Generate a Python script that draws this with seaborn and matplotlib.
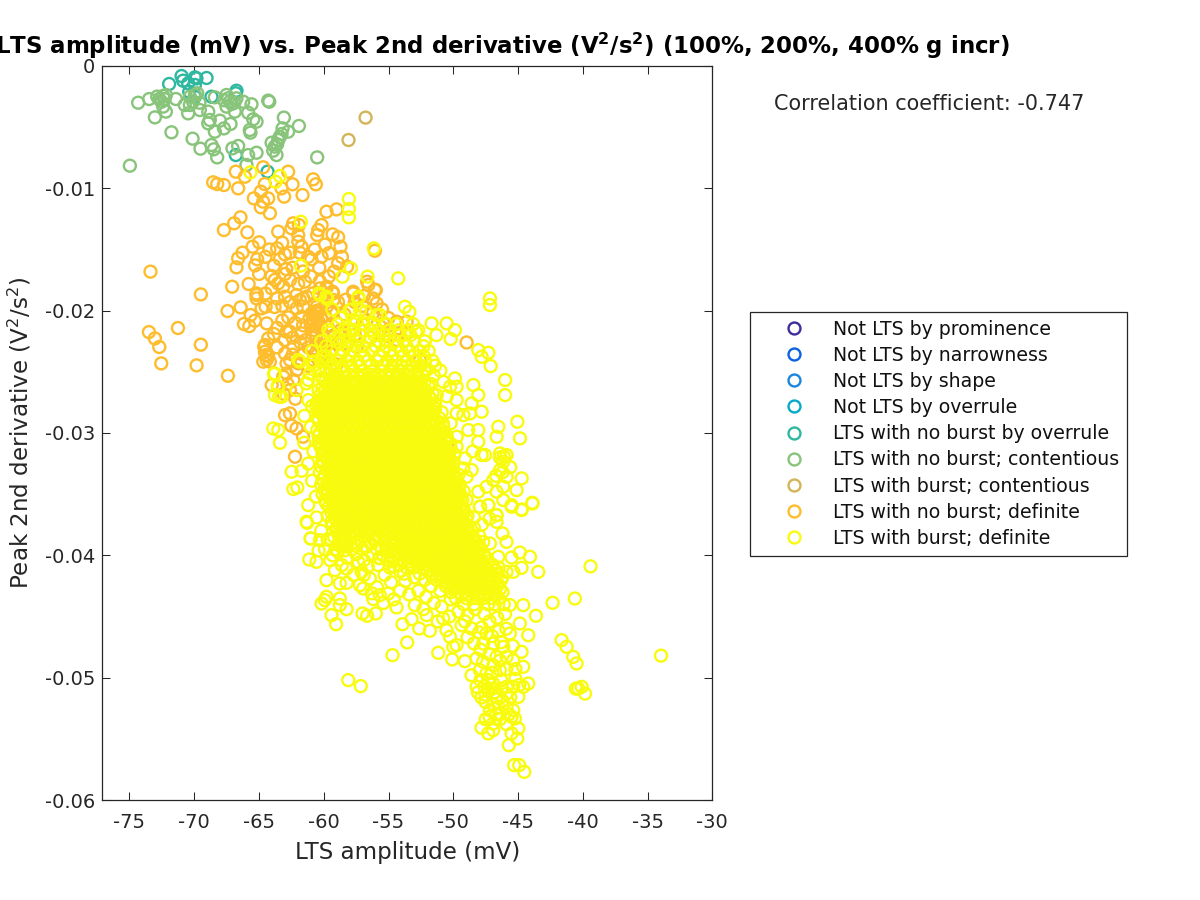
import numpy as np
import pandas as pd
import seaborn as sns
import matplotlib
matplotlib.use("Agg")
import matplotlib.pyplot as plt
from matplotlib.lines import Line2D

# amplitude in mV, second derivative in units of 1e-3 V^2/s^2
categories = ["Not LTS by prominence", "Not LTS by narrowness", "Not LTS by shape", "Not LTS by overrule",
              "LTS with no burst by overrule", "LTS with no burst; contentious", "LTS with burst; contentious",
              "LTS with no burst; definite", "LTS with burst; definite"]
colours = ["#3f2d9c", "#0b62e0", "#1a86de", "#07a9c8", "#2fb8a0", "#88c47a", "#d3b558", "#fdbd2c", "#f9fb0e"]

teal = [(-71.94,-1.47),(-70.98,-.82),(-70.86,-1.2),(-69.95,-.93),(-69.83,-1.01),(-69.05,-.98),(-70.47,-1.42),(-69.95,-1.55),
        (-70.39,-2.1),(-68.67,-2.51),(-66.74,-2.02),(-66.79,-2.23),(-66.79,-7.28),(-64.34,-8.64),(-69.95,-2.51)]
green = [(-74.33,-3.0),(-73.48,-2.7),(-72.86,-2.5),(-72.4,-2.45),(-72.19,-2.37),(-72.53,-2.92),(-72.4,-3.32),(-72.19,-3.73),
         (-73.04,-4.2),(-71.76,-5.42),(-71.42,-2.7),(-70.73,-3.19),(-70.47,-3.87),(-70.34,-2.51),(-69.95,-2.37),(-69.77,-2.23),
         (-70.34,-3.19),(-69.57,-3.6),(-68.92,-3.73),(-68.8,-4.41),(-68.92,-4.69),(-68.41,-5.37),(-68.02,-4.47),(-67.71,-5.1),
         (-67.2,-4.74),(-70.13,-5.94),(-69.52,-6.76),(-68.67,-6.46),(-68.49,-6.81),(-68.23,-7.47),(-68.41,-2.56),(-67.51,-2.37),
         (-67.38,-2.64),(-67.25,-2.92),(-67.51,-3.32),(-66.87,-3.73),(-66.74,-2.64),(-66.22,-2.92),(-65.58,-3.13),(-65.84,-3.82),
         (-65.45,-4.36),(-65.19,-4.55),(-65.71,-5.23),(-65.66,-5.45),(-64.29,-2.83),(-64.21,-2.92),(-63.08,-4.22),(-61.92,-4.9),
         (-62.75,-5.37),(-63.18,-5.1),(-63.26,-5.56),(-63.52,-6.05),(-64.03,-6.27),(-63.78,-6.59),(-63.9,-6.92),(-63.65,-7.28),
         (-60.51,-7.47),(-67.05,-6.73),(-66.61,-6.54),(-65.84,-7.28),(-65.19,-7.09),(-74.97,-8.15),(-65.97,-8.09),
         (-72.7,-2.7),(-72.3,-2.7),(-70.1,-2.9),(-69.6,-3.0),(-67.7,-2.8),(-67.1,-3.1),(-66.9,-3.0),(-63.4,-5.8),(-63.6,-6.4)]
tan = [(-56.77,-4.22),(-58.09,-6.05)]
orange = [(-66.79,-8.64),(-66.09,-9.05),(-64.68,-8.28),(-62.75,-8.64),(-68.54,-9.51),(-68.23,-9.65),(-67.71,-9.73),(-66.61,-10.0),
          (-64.55,-9.65),(-63.26,-10.0),(-62.41,-9.67),(-60.82,-9.26),(-60.61,-9.67),(-61.64,-10.55),(-64.86,-10.27),(-65.4,-10.82),
          (-63.06,-10.68),(-64.29,-10.82),(-64.68,-11.09),(-64.86,-11.55),(-64.16,-12.04),(-66.43,-12.37),(-66.92,-12.86),(-67.71,-13.41),
          (-62.36,-12.86),(-62.49,-13.27),(-61.92,-13.0),(-63.52,-13.54),(-61.97,-13.82),(-60.17,-13.0),(-60.43,-13.41),(-60.51,-13.82),
          (-59.79,-11.91),(-59.01,-11.72),(-59.32,-13.76),(-58.89,-14.0),(-58.71,-14.77),(-63.21,-14.44),(-61.97,-14.36),(-61.72,-14.77),
          (-61.85,-15.26),(-64.99,-14.41),(-65.5,-14.77),(-66.27,-15.26),(-66.61,-15.72),(-66.74,-16.46),(-65.14,-15.8),(-63.39,-15.78),
          (-62.62,-15.26),(-60.95,-15.8),(-60.17,-15.59),(-58.89,-16.13),(-59.2,-16.81),(-63.85,-16.32),(-62.41,-16.49),(-60.35,-16.49),
          (-73.38,-16.81),(-64.99,-17.0),(-64.03,-17.17),(-63.78,-17.49),(-63.52,-17.77),(-65.8,-17.82),(-67.07,-18.04),(-64.03,-18.17),
          (-61.97,-17.82),(-61.46,-17.63),(-63.13,-18.04),(-59.79,-18.17),(-57.73,-18.45),(-56.65,-17.63),(-55.98,-18.31),(-60.82,-18.58),
          (-59.32,-18.45),(-69.49,-18.67),(-65.19,-18.72),(-62.1,-18.72),(-56.05,-15.1),(-67.43,-20.03),(-71.26,-21.42),(-73.5,-21.75),
          (-73.04,-22.27),(-72.7,-22.97),(-69.49,-22.78),(-72.55,-24.31),(-69.82,-24.47),(-67.4,-25.32),(-66.42,-19.73),(-62.99,-18.86),
          (-65.19,-18.59),(-65.19,-19.0),(-64.8,-19.81),(-64.49,-19.68),(-65.65,-20.36),(-66.16,-21.09),(-65.75,-21.26),(-65.32,-20.82),
          (-64.41,-21.04),(-62.74,-20.55),(-62.87,-21.72),(-62.61,-21.72),(-61.71,-21.86),(-62.35,-22.95),(-63.85,-21.91),(-64.29,-22.27),
          (-64.54,-22.81),(-64.54,-23.36),(-64.41,-24.04),(-64.16,-24.17),(-64.67,-24.17),(-64.6,-22.95),(-64.47,-23.63),(-64.3,-23.7),
          (-60.94,-20.22),(-60.55,-20.22),(-60.3,-19.95),(-60.81,-20.77),(-60.55,-21.31),(-60.94,-21.86),(-60.3,-22.4),(-60.04,-23.36),
          (-62.61,-24.04),(-62.87,-25.13),(-62.1,-24.85),(-62.35,-25.67),(-59.27,-18.59),(-61.84,-19.13),(-61.58,-19.68),(-59.78,-18.04),
          (-61.32,-18.86),(-60.3,-18.18),(-59.78,-19.68),(-59.27,-19.13),(-60.55,-19.7),(-60.6,-20.5),(-60.2,-20.7),(-60.7,-21.6),
          (-60.1,-21.9),(-60.5,-22.7),(-60.0,-22.95),(-60.7,-20.1),(-61.1,-20.6),(-59.9,-20.4),(-61.58,-19.0),(-57.72,-18.59),
          (-56.05,-18.3),(-56.56,-17.9),(-55.92,-19.4),(-54.37,-20.9),(-53.6,-20.9),(-48.97,-22.6),(-62.61,-28.4),(-62.99,-28.54),
          (-64.02,-26.08),(-62.1,-29.63),(-62.22,-31.94),(-59.52,-24.72),(-60.81,-24.04),(-62.87,-24.31),(-63.13,-25.4),(-62.61,-26.5),
          (-61.97,-24.31),(-58.75,-22.4),(-58.23,-22.68),(-59.52,-23.5),(-57.46,-22.95),(-56.69,-20.77),(-55.4,-21.04),(-54.89,-22.13),
          (-53.6,-21.86),(-54.37,-22.4),(-52.57,-24.04),(-53.09,-26.22),(-51.4,-30.6),(-50.4,-30.7),(-51.8,-29.2),(-61.6,-30.3),
          (-59.0,-21.0),(-58.4,-20.3),(-58.0,-21.6),(-57.0,-19.6),(-56.4,-22.2),(-55.5,-19.9),(-55.0,-20.6),(-61.2,-23.0),(-59.0,-24.4)]
orange_extra = [(-65.9,-13.6),(-65.3,-16.3),(-64.5,-15.6),(-64.2,-15.0),(-63.6,-14.9),(-63.0,-15.4),(-62.9,-16.6),(-61.6,-16.8),(-61.2,-15.6),
          (-60.7,-15.0),(-59.9,-14.6),(-59.6,-15.3),(-58.6,-15.6),(-58.2,-16.4),(-59.6,-17.2),(-60.3,-17.6),(-61.0,-17.2),(-62.6,-17.5),(-63.0,-17.0),
          (-64.5,-18.6),(-63.6,-19.0),(-63.8,-19.7),(-63.2,-19.6),(-62.6,-19.3),(-62.1,-19.8),(-61.7,-20.5),(-62.2,-21.0),(-61.6,-21.2),(-61.0,-21.2),
          (-63.2,-20.8),(-63.6,-21.4),(-63.0,-22.4),(-62.4,-22.2),(-61.8,-22.6),(-61.4,-22.4),(-63.6,-23.0),(-63.0,-23.5),(-62.4,-23.6),(-61.6,-23.6),
          (-61.2,-24.5),(-60.3,-24.8),(-60.0,-24.0),(-59.4,-22.6),(-59.2,-22.0),(-58.7,-21.6),(-57.6,-22.0),(-57.0,-21.1),(-56.2,-20.2),(-55.0,-21.6),
          (-60.5,-20.0),(-60.8,-20.4),(-60.4,-20.9),(-60.9,-21.1),(-60.2,-21.3),(-60.6,-22.1),(-60.3,-22.9),(-60.1,-23.6),(-60.6,-23.4),(-59.7,-21.3),
          (-59.4,-20.2),(-58.9,-19.3),(-58.3,-19.1),(-57.6,-19.3),(-56.9,-18.8),(-56.2,-19.0),(-62.8,-26.0),(-62.2,-27.2),(-63.1,-26.8),(-62.5,-29.4)]
yellow_outer = [(-65.66,-8.69),(-63.39,-8.99),(-63.72,-9.46),(-61.77,-12.73),(-58.06,-10.87),(-58.06,-11.69),(-58.06,-12.37),(-56.13,-14.91),
          (-61.77,-16.32),(-58.55,-17.22),(-57.91,-16.54),(-56.62,-17.22),(-54.25,-17.36),(-60.3,-18.72),(-59.79,-18.86),(-57.34,-19.0),
          (-60.37,-18.59),(-59.73,-19.05),(-59.34,-19.9),(-58.7,-20.58),(-57.85,-19.9),(-59.65,-21.58),(-59.52,-21.8),(-60.81,-24.17),
          (-61.84,-24.17),(-63.85,-25.18),(-63.56,-26.16),(-63.44,-27.03),(-62.1,-26.49),(-61.07,-25.13),(-61.33,-25.94),(-59.78,-23.76),
          (-58.75,-22.67),(-57.72,-21.58),(-57.47,-22.4),(-59.0,-24.04),(-60.3,-24.85),(-53.73,-19.68),(-53.39,-20.09),(-51.67,-21.04),
          (-50.51,-21.04),(-49.87,-21.59),(-50.2,-22.32),(-52.88,-21.72),(-48.07,-23.22),(-47.81,-23.77),(-47.29,-23.44),(-47.11,-24.53),
          (-46.0,-25.67),(-46.0,-26.9),(-47.17,-19.0),(-47.17,-19.54),(-57.33,-18.86),(-57.98,-19.95),(-57.2,-19.95),(-55.92,-20.36),
          (-55.66,-20.36),(-57.46,-20.9),(-56.74,-20.09),(-55.4,-22.0),(-56.17,-21.04),(-59.0,-22.27),(-58.49,-22.4),(-57.72,-20.77),
          (-63.9,-29.63),(-63.51,-29.76),(-63.38,-30.8),(-62.48,-33.17),(-61.71,-33.09),(-62.35,-34.58),(-62.04,-34.45),(-63.77,-25.13),
          (-63.51,-26.22),(-63.77,-26.9),(-63.25,-27.04),(-61.19,-27.31),(-61.19,-25.67),(-61.97,-24.04),(-60.81,-24.18)]
yellow_right = [(-50.77,-25.81),(-51.28,-26.9),(-51.41,-27.58),(-49.87,-25.54),(-50.25,-26.22),(-49.74,-26.22),(-49.74,-27.31),(-48.45,-26.08),
          (-48.07,-26.9),(-48.58,-27.58),(-47.81,-28.26),(-48.71,-28.4),(-49.74,-28.4),(-49.22,-28.54),(-50.77,-29.49),(-49.74,-30.31),
          (-48.84,-29.76),(-48.07,-29.76),(-48.07,-30.72),(-46.52,-29.49),(-46.65,-30.31),(-45.05,-29.08),(-44.85,-30.44),(-47.81,-31.8),
          (-47.55,-31.8),(-49.1,-32.08),(-49.22,-32.9),(-48.58,-33.03),(-48.97,-33.58),(-46.39,-31.67),(-45.88,-31.8),(-46.14,-32.35),
          (-46.39,-33.03),(-45.88,-33.58),(-44.72,-33.71),(-46.91,-33.85),(-45.11,-34.67),(-46.14,-34.39),(-46.65,-34.8),(-47.42,-34.39),
          (-48.07,-34.8),(-47.29,-35.89),(-47.94,-36.03),(-46.14,-35.48),(-45.49,-36.03),(-44.72,-36.3),(-43.9,-35.7),(-46.65,-36.71),
          (-50.25,-30.85),(-50.38,-31.53),(-51.28,-32.21),(-49.74,-31.12),(-51.03,-33.03),(-50.51,-33.85),(-50.0,-34.67),(-48.97,-35.48),
          (-49.48,-34.94),(-46.4,-32.0),(-46.2,-33.2),(-46.7,-33.5),(-45.6,-32.8),(-46.1,-31.9),
          (-52.0,-24.8),(-51.5,-25.3),(-51.9,-26.1),(-51.0,-24.9),(-50.5,-27.0),(-50.9,-28.3),(-51.3,-29.0),(-50.2,-29.2),(-50.0,-32.4),
          (-49.6,-33.4),(-48.5,-31.5),(-49.2,-36.2),(-48.4,-36.9),(-47.8,-37.5),(-48.9,-37.6),(-48.0,-38.4),(-47.2,-37.0)]
yellow_lower = [(-61.12,-40.34),(-60.56,-40.53),(-59.79,-42.03),(-58.76,-42.3),(-58.24,-42.25),(-57.21,-42.44),(-56.96,-42.71),(-56.44,-41.89),
          (-57.08,-41.35),(-58.24,-41.08),(-59.14,-41.21),(-60.17,-43.94),(-59.79,-43.39),(-59.92,-43.66),(-58.76,-43.53),(-58.24,-44.4),
          (-58.76,-44.07),(-59.4,-44.89),(-59.05,-45.63),(-57.01,-44.75),(-56.65,-44.94),(-55.98,-44.75),(-56.18,-43.58),(-55.67,-43.26),
          (-55.02,-43.12),(-54.38,-44.26),(-53.92,-45.63),(-53.22,-45.22),(-53.56,-47.12),(-54.69,-48.16),(-52.63,-45.98),(-51.81,-46.17),
          (-51.16,-47.97),(-50.08,-48.51),(-49.1,-48.65),(-58.11,-50.2),(-57.14,-50.69),(-61.0,-38.62),(-61.28,-37.34),(-60.3,-38.76),
          (-52.97,-44.07),(-52.06,-44.89),(-50.78,-45.16),(-50.52,-46.12),(-49.75,-47.34),(-50.0,-47.48),(-50.26,-46.66),(-48.59,-45.98),
          (-49.36,-45.71),(-45.63,-44.07),(-44.6,-44.07),(-43.62,-44.94),(-44.21,-46.53),(-42.33,-43.88),(-40.61,-43.53),(-43.44,-41.35),
          (-44.08,-40.12),(-44.73,-41.02),(-45.5,-40.18),(-44.86,-39.77),(-45.89,-41.35),(-45.37,-41.35),(-46.66,-36.72),(-46.66,-37.26),
          (-46.2,-38.21),(-45.89,-38.9),(-47.69,-38.9),(-47.17,-39.03),(-46.53,-40.12),(-47.95,-36.03),(-47.3,-35.9),(-45.5,-35.9),
          (-44.73,-36.25),(-43.88,-35.76),(-48.2,-48.43),(-48.59,-49.8),(-48.2,-50.75),(-47.82,-51.62),(-46.92,-50.48),(-46.66,-51.57),
          (-47.17,-52.66),(-45.89,-52.38),(-46.92,-53.75),(-47.82,-54.1),(-47.3,-54.56),(-46.92,-54.29),(-45.24,-53.34),(-44.98,-54.15),
          (-45.5,-54.56),(-45.06,-54.97),(-45.71,-55.52),(-45.3,-57.15),(-44.91,-57.15),(-44.52,-57.7),(-45.37,-50.75),(-44.21,-50.48),
          (-44.6,-50.75),(-44.98,-51.57),(-45.37,-52.66),(-46.4,-52.93),(-47.69,-47.21),(-46.92,-47.21),(-47.43,-46.39),(-45.89,-48.3),
          (-44.73,-47.89),(-44.6,-49.11),(-45.37,-48.57),(-44.86,-45.57),(-45.63,-46.39),(-46.14,-47.48),(-46.66,-48.3),(-47.95,-49.39),
          (-47.43,-49.66),(-46.4,-49.39),(-45.89,-50.75),(-41.64,-46.93),(-41.25,-47.48),(-40.74,-48.3),(-40.48,-48.84),(-40.35,-50.88),
          (-40.09,-50.75),(-39.4,-40.9),(-33.96,-48.2),(-39.83,-51.3),(-40.53,-50.9),(-61.2,-35.89),(-61.33,-37.26),(-61.02,-38.62),
          (-60.55,-36.9),(-60.6,-35.2),(-60.9,-33.9),(-61.2,-32.5),(-60.8,-31.5),(-61.5,-30.8),(-61.0,-29.5),(-61.5,-28.6),(-60.9,-27.8),
          (-59.9,-39.5),(-60.2,-38.0),(-59.5,-40.4),(-58.9,-39.7),(-58.2,-40.2),(-57.5,-39.9),(-56.9,-40.4),(-56.3,-39.9),(-55.8,-40.8),
          (-55.3,-41.6),(-54.8,-42.2),(-54.1,-42.9),(-53.4,-43.2),(-52.7,-42.9),(-52.1,-43.4),(-51.5,-43.9),(-50.9,-44.2),(-51.0,-42.9),
          (-50.2,-43.6),(-49.6,-44.6),(-48.9,-44.9),(-48.3,-44.4),(-47.6,-44.8),(-47.2,-45.4),(-46.6,-45.1),(-46.0,-44.8),(-48.9,-46.7),
          (-48.4,-47.2),(-47.8,-45.9),(-46.5,-46.2),(-45.9,-46.0),(-47.2,-48.1),(-47.7,-48.7),(-46.9,-49.0),(-45.9,-49.3),(-47.3,-50.2),
          (-46.3,-50.2),(-47.6,-50.7),(-46.8,-51.2),(-45.9,-51.3),(-47.5,-51.4),(-46.2,-51.9),(-46.9,-52.2),(-47.5,-52.0),(-46.4,-53.4),
          (-47.5,-53.4),(-45.5,-53.2),(-45.2,-50.1),(-44.9,-50.6),(-47.9,-50.2),(-55.9,-42.6),(-54.9,-41.0),(-55.4,-43.9),(-54.6,-43.6),
          (-48.0,-46.3),(-47.0,-46.6),(-46.3,-47.1),(-45.4,-47.4),(-47.9,-47.7),(-46.4,-48.6),(-45.2,-49.3),(-47.0,-49.6),(-48.1,-51.2),
          (-47.0,-50.9),(-46.3,-50.9),(-45.6,-51.6),(-47.3,-51.1),(-46.5,-52.4),(-47.2,-53.2),(-46.7,-53.0),(-45.7,-53.0),(-45.9,-53.8),
          (-57.7,-41.6),(-56.9,-41.6),(-56.3,-43.1),(-54.1,-41.3),(-53.7,-42.1),(-53.0,-41.8),(-52.3,-44.4),(-51.2,-45.4),(-50.3,-45.0),(-49.1,-45.4),
          (-58.7,-38.9),(-57.9,-39.1),(-57.2,-38.7),(-56.7,-39.3),(-56.0,-38.4),(-55.5,-39.5),(-58.4,-39.6),(-57.3,-40.6),(-56.6,-40.9),(-55.7,-40.2),
          (-59.3,-40.0),(-58.6,-40.8),(-59.7,-38.7),(-60.4,-39.6),(-57.7,-38.1),(-56.6,-37.9),(-55.1,-40.4),(-54.6,-40.9)]

# Rows of the solid core: each key is a derivative level, each list the amplitudes read across it (estimated: marks overlap fully here)
core_rows = {
 -21.6:[-58.4,-57.0,-56.4,-55.8,-54.9,-54.2,-53.5,-52.7],
 -22.5:[-60.2,-58.0,-57.3,-56.6,-55.7,-55.1,-54.5,-53.8,-53.0,-52.2],
 -23.3:[-60.9,-59.4,-58.5,-57.7,-57.1,-56.3,-55.4,-54.9,-54.0,-53.4,-52.6,-51.9],
 -24.1:[-60.2,-59.6,-58.9,-58.2,-57.4,-56.6,-55.9,-55.1,-54.4,-53.6,-52.9,-52.2,-51.6],
 -24.9:[-60.4,-59.8,-59.1,-58.5,-57.7,-57.0,-56.2,-55.6,-54.9,-54.2,-53.5,-52.8,-52.2],
 -25.5:[-60.1,-59.4,-58.9,-58.3,-57.7,-57.2,-56.6,-56.1,-55.5,-55.0,-54.4,-53.9,-53.3,-52.7],
 -26.0:[-59.7,-59.2,-58.6,-58.0,-57.5,-56.9,-56.4,-55.8,-55.2,-54.7,-54.1,-53.6,-53.0,-52.5,-51.7],
 -26.5:[-60.4,-59.9,-59.4,-58.9,-58.3,-57.8,-57.2,-56.6,-56.1,-55.5,-54.9,-54.4,-53.8,-53.3,-52.7,-52.2],
 -27.0:[-60.0,-59.6,-59.1,-58.6,-58.0,-57.5,-56.9,-56.4,-55.8,-55.2,-54.7,-54.1,-53.5,-53.0,-52.4,-51.9],
 -27.5:[-60.5,-60.0,-59.4,-58.8,-58.3,-57.7,-57.2,-56.6,-56.1,-55.5,-54.9,-54.4,-53.8,-53.3,-52.7,-52.1],
 -28.0:[-60.3,-59.7,-59.1,-58.6,-58.0,-57.4,-56.9,-56.3,-55.8,-55.2,-54.6,-54.1,-53.5,-53.0,-52.4,-51.9,-51.4],
 -28.5:[-60.1,-59.5,-58.9,-58.3,-57.8,-57.2,-56.6,-56.1,-55.5,-54.9,-54.4,-53.8,-53.2,-52.7,-52.1,-51.6],
 -29.0:[-60.4,-59.8,-59.2,-58.6,-58.1,-57.5,-56.9,-56.4,-55.8,-55.3,-54.7,-54.1,-53.6,-53.0,-52.4,-51.9,-51.3],
 -29.5:[-60.1,-59.5,-59.0,-58.4,-57.8,-57.3,-56.7,-56.1,-55.6,-55.0,-54.4,-53.9,-53.3,-52.7,-52.2,-51.6,-51.1],
 -30.0:[-60.3,-59.8,-59.2,-58.7,-58.1,-57.5,-57.0,-56.4,-55.8,-55.3,-54.7,-54.1,-53.6,-53.0,-52.5,-51.9,-51.4,-50.8],
 -30.5:[-60.1,-59.5,-59.0,-58.4,-57.8,-57.3,-56.7,-56.1,-55.6,-55.0,-54.5,-53.9,-53.3,-52.8,-52.2,-51.6,-51.1,-50.6],
 -31.0:[-60.3,-59.8,-59.2,-58.6,-58.1,-57.5,-57.0,-56.4,-55.8,-55.3,-54.7,-54.1,-53.6,-53.0,-52.4,-51.9,-51.3,-50.8],
 -31.5:[-60.0,-59.5,-58.9,-58.4,-57.8,-57.2,-56.7,-56.1,-55.5,-55.0,-54.4,-53.9,-53.3,-52.7,-52.2,-51.6,-51.0,-50.5],
 -32.0:[-59.8,-59.2,-58.6,-58.1,-57.5,-57.0,-56.4,-55.8,-55.3,-54.7,-54.1,-53.6,-53.0,-52.5,-51.9,-51.3,-50.8,-50.3],
 -32.5:[-60.0,-59.5,-58.9,-58.4,-57.8,-57.2,-56.7,-56.1,-55.5,-55.0,-54.4,-53.9,-53.3,-52.7,-52.2,-51.6,-51.1,-50.5,-50.0],
 -33.0:[-59.8,-59.2,-58.6,-58.1,-57.5,-56.9,-56.4,-55.8,-55.3,-54.7,-54.1,-53.6,-53.0,-52.4,-51.9,-51.3,-50.8,-50.2],
 -33.5:[-59.9,-59.4,-58.9,-58.3,-57.8,-57.2,-56.6,-56.1,-55.5,-54.9,-54.4,-53.8,-53.3,-52.7,-52.1,-51.6,-51.0,-50.5,-49.9],
 -34.0:[-59.7,-59.1,-58.6,-58.0,-57.5,-56.9,-56.3,-55.8,-55.2,-54.7,-54.1,-53.5,-53.0,-52.4,-51.8,-51.3,-50.7,-50.2,-49.7],
 -34.5:[-59.9,-59.4,-58.8,-58.3,-57.7,-57.1,-56.6,-56.0,-55.5,-54.9,-54.3,-53.8,-53.2,-52.6,-52.1,-51.5,-51.0,-50.4,-49.8],
 -35.0:[-60.1,-59.7,-59.1,-58.5,-58.0,-57.4,-56.8,-56.3,-55.7,-55.1,-54.6,-54.0,-53.5,-52.9,-52.3,-51.8,-51.2,-50.6,-50.1,-49.5],
 -35.5:[-59.9,-59.4,-58.8,-58.2,-57.7,-57.1,-56.5,-56.0,-55.4,-54.9,-54.3,-53.7,-53.2,-52.6,-52.0,-51.5,-50.9,-50.4,-49.8,-49.3],
 -36.0:[-59.6,-59.1,-58.5,-58.0,-57.4,-56.8,-56.3,-55.7,-55.1,-54.6,-54.0,-53.4,-52.9,-52.3,-51.8,-51.2,-50.6,-50.1,-49.5],
 -36.5:[-59.4,-58.8,-58.2,-57.7,-57.1,-56.5,-56.0,-55.4,-54.9,-54.3,-53.7,-53.2,-52.6,-52.0,-51.5,-50.9,-50.4,-49.8,-49.2],
 -37.0:[-59.1,-58.5,-58.0,-57.4,-56.8,-56.3,-55.7,-55.1,-54.6,-54.0,-53.5,-52.9,-52.3,-51.8,-51.2,-50.7,-50.1,-49.5,-49.0],
 -37.5:[-59.3,-58.8,-58.2,-57.6,-56.9,-55.9,-55.4,-54.8,-54.3,-53.7,-53.1,-52.6,-52.0,-51.5,-50.9,-50.3,-49.8,-49.2],
 -38.0:[-59.0,-58.4,-57.8,-57.2,-56.3,-55.5,-55.0,-54.5,-53.9,-53.4,-52.8,-52.2,-51.7,-51.1,-50.6,-50.0,-49.4,-48.9],
 -38.5:[-59.2,-58.6,-58.0,-56.9,-55.8,-55.2,-54.7,-54.1,-53.6,-53.0,-52.5,-51.9,-51.3,-50.8,-50.2,-49.7,-49.1,-48.5],
 -39.0:[-58.8,-58.2,-57.4,-56.4,-54.9,-54.4,-53.8,-53.2,-52.7,-52.1,-51.6,-51.0,-50.4,-49.9,-49.3,-48.8,-48.2],
 -39.5:[-59.1,-57.8,-57.0,-55.9,-55.1,-54.6,-54.0,-53.5,-52.9,-52.4,-51.8,-51.2,-50.7,-50.1,-49.6,-49.0,-48.4,-47.9],
 -40.0:[-55.4,-54.3,-53.7,-53.2,-52.6,-52.1,-51.5,-50.9,-50.4,-49.8,-49.3,-48.7,-48.1,-47.6],
 -40.5:[-54.9,-53.9,-53.4,-52.9,-52.3,-51.7,-51.2,-50.6,-50.1,-49.5,-48.9,-48.4,-47.8,-47.3],
 -41.0:[-53.6,-53.1,-52.2,-51.4,-50.8,-50.3,-49.7,-49.2,-48.6,-48.1,-47.5,-47.0,-46.5],
 -41.5:[-53.8,-52.6,-51.7,-51.1,-50.5,-50.0,-49.4,-48.8,-48.3,-47.7,-47.2,-46.6],
 -42.0:[-52.2,-51.3,-50.3,-49.7,-49.1,-48.6,-48.0,-47.4,-46.9,-46.3],
 -42.5:[-51.7,-50.6,-50.0,-49.4,-48.9,-48.3,-47.8,-47.2,-46.6],
 -43.0:[-50.2,-49.6,-49.1,-48.5,-48.0,-47.4,-46.9,-46.2],
 -43.5:[-49.8,-49.0,-48.2,-47.7,-47.1,-46.5],
 -44.0:[-49.2,-48.4,-47.3,-46.8,-46.1],
}
core_rows_between = {
 -21.1:[-58.9,-57.7,-56.9,-55.2,-54.4,-53.1],
 -22.0:[-58.3,-57.2,-56.1,-55.3,-54.1,-53.3,-51.3],
 -22.9:[-59.8,-58.2,-57.0,-56.0,-55.2,-54.3,-53.6,-52.3],
 -23.7:[-60.0,-58.7,-58.0,-56.9,-55.7,-54.7,-53.9,-53.0,-52.3],
 -24.5:[-60.8,-59.2,-58.6,-57.9,-57.2,-56.4,-55.4,-54.7,-54.0,-53.2,-52.5,-51.4],
 -25.24:[-59.6,-59.0,-58.0,-57.4,-56.9,-56.3,-55.8,-55.2,-54.7,-54.1,-53.6,-53.0,-52.4],
 -25.77:[-59.9,-59.1,-58.5,-57.9,-57.4,-56.8,-56.2,-55.7,-55.2,-54.6,-54.0,-53.5,-52.9,-52.2],
 -26.23:[-60.1,-59.5,-58.9,-58.3,-57.7,-57.1,-56.6,-56.0,-55.5,-54.9,-54.3,-53.8,-53.2,-52.8,-51.9],
 -26.76:[-60.2,-59.7,-59.1,-58.5,-58.1,-57.5,-56.9,-56.3,-55.8,-55.2,-54.6,-54.1,-53.5,-53.0,-52.4,-51.6],
 -27.24:[-60.2,-59.7,-59.2,-58.5,-58.0,-57.4,-56.8,-56.3,-55.7,-55.1,-54.6,-54.0,-53.5,-52.9,-52.3,-51.7],
 -27.77:[-60.6,-60.0,-59.3,-58.9,-58.3,-57.7,-57.1,-56.6,-56.0,-55.4,-54.9,-54.3,-53.8,-53.2,-52.6,-52.1,-51.6],
 -28.24:[-60.4,-59.8,-59.3,-58.8,-58.2,-57.6,-57.1,-56.5,-56.0,-55.4,-54.8,-54.3,-53.7,-53.1,-52.6,-52.0,-51.5],
 -28.76:[-60.5,-59.9,-59.4,-58.9,-58.3,-57.7,-57.2,-56.6,-56.0,-55.5,-55.0,-54.4,-53.8,-53.3,-52.7,-52.2,-51.1],
 -29.23:[-60.0,-59.5,-58.9,-58.4,-57.8,-57.2,-56.7,-56.1,-55.5,-55.0,-54.4,-53.9,-53.3,-52.7,-52.2,-51.6,-50.8],
 -29.77:[-60.5,-59.8,-59.3,-58.7,-58.1,-57.6,-57.0,-56.5,-55.9,-55.3,-54.8,-54.2,-53.6,-53.1,-52.5,-52.0,-51.4,-50.9],
 -30.24:[-60.4,-59.9,-59.4,-58.9,-58.3,-57.7,-57.2,-56.6,-56.0,-55.5,-54.9,-54.4,-53.8,-53.2,-52.7,-52.1,-51.6,-51.0,-50.5],
 -30.76:[-60.4,-59.6,-59.0,-58.4,-57.9,-57.3,-56.8,-56.2,-55.6,-55.1,-54.5,-53.9,-53.4,-52.8,-52.3,-51.7,-51.1,-50.6],
 -31.24:[-60.2,-59.6,-59.1,-58.5,-58.0,-57.4,-56.8,-56.3,-55.7,-55.1,-54.6,-54.0,-53.5,-52.9,-52.3,-51.8,-51.2,-50.7,-50.2],
 -31.77:[-60.1,-59.4,-58.8,-58.3,-57.7,-57.2,-56.6,-56.0,-55.5,-54.9,-54.4,-53.8,-53.2,-52.7,-52.1,-51.6,-51.0,-50.4,-49.9],
 -32.24:[-60.1,-59.7,-59.2,-58.7,-58.2,-57.6,-57.0,-56.5,-55.9,-55.4,-54.8,-54.2,-53.7,-53.1,-52.5,-52.0,-51.4,-50.9,-50.3],
 -32.76:[-60.2,-59.6,-59.1,-58.5,-57.9,-57.4,-56.8,-56.2,-55.7,-55.1,-54.6,-54.0,-53.4,-52.9,-52.3,-51.8,-51.2,-50.6,-50.1],
 -33.24:[-60.3,-59.5,-58.9,-58.4,-57.8,-57.2,-56.7,-56.1,-55.6,-55.0,-54.4,-53.9,-53.3,-52.8,-52.2,-51.6,-51.1,-50.5,-50.0],
 -33.76:[-60.1,-59.3,-58.8,-58.2,-57.6,-57.1,-56.5,-56.0,-55.4,-54.8,-54.3,-53.7,-53.2,-52.6,-52.0,-51.5,-50.9,-50.3,-49.8],
 -34.24:[-60.2,-59.6,-58.9,-58.4,-57.9,-57.3,-56.7,-56.2,-55.6,-55.0,-54.5,-53.9,-53.4,-52.8,-52.3,-51.7,-51.1,-50.6,-50.0,-49.5],
 -34.76:[-59.9,-59.2,-58.7,-58.1,-57.6,-57.0,-56.5,-55.9,-55.3,-54.8,-54.2,-53.6,-53.1,-52.5,-52.0,-51.4,-50.8,-50.3,-49.7,-49.2],
 -35.24:[-59.5,-58.9,-58.3,-57.8,-57.2,-56.6,-56.1,-55.5,-55.0,-54.4,-53.8,-53.3,-52.7,-52.2,-51.6,-51.0,-50.5,-49.9,-49.4],
 -35.76:[-59.8,-59.2,-58.7,-58.0,-57.5,-56.9,-56.4,-55.8,-55.2,-54.7,-54.1,-53.6,-53.0,-52.4,-51.9,-51.3,-50.8,-50.2,-49.6],
 -36.24:[-59.3,-58.8,-58.3,-57.7,-57.1,-56.6,-56.0,-55.5,-54.9,-54.3,-53.8,-53.2,-52.6,-52.1,-51.5,-51.0,-50.4,-49.8,-49.3],
 -36.76:[-59.7,-59.0,-58.5,-57.9,-57.3,-56.8,-56.2,-55.7,-55.1,-54.5,-54.0,-53.4,-52.9,-52.3,-51.7,-51.2,-50.6,-50.1,-49.5,-48.9],
 -37.24:[-59.4,-58.7,-58.2,-57.6,-57.1,-56.5,-55.9,-55.4,-54.8,-54.3,-53.7,-53.1,-52.6,-52.0,-51.4,-50.9,-50.3,-49.8,-49.2],
 -37.76:[-59.0,-58.5,-57.9,-57.0,-56.0,-55.2,-54.6,-54.0,-53.5,-52.9,-52.3,-51.8,-51.2,-50.7,-50.1,-49.5,-49.0,-48.4],
 -38.24:[-58.7,-58.1,-57.5,-56.6,-55.5,-54.9,-54.3,-53.8,-53.2,-52.6,-52.1,-51.5,-51.0,-50.4,-49.8,-49.3,-48.7],
 -38.76:[-59.5,-58.5,-57.2,-56.1,-55.3,-54.6,-54.0,-53.4,-52.9,-52.3,-51.7,-51.2,-50.6,-50.0,-49.5,-48.9,-48.3],
 -39.24:[-58.5,-57.5,-56.8,-55.2,-54.7,-54.1,-53.6,-53.0,-52.4,-51.9,-51.3,-50.8,-50.2,-49.6,-49.1,-48.5,-48.0],
 -39.76:[-54.8,-54.2,-53.7,-53.1,-52.6,-52.0,-51.4,-50.9,-50.3,-49.8,-49.2,-48.6,-48.1],
 -40.24:[-55.7,-54.6,-53.6,-53.0,-52.4,-51.9,-51.3,-50.7,-50.2,-49.6,-49.1,-48.5,-48.0,-47.4],
 -40.76:[-54.2,-53.3,-52.6,-52.0,-51.5,-50.9,-50.4,-49.8,-49.2,-48.7,-48.1,-47.6,-47.0],
 -41.24:[-52.0,-51.3,-50.7,-50.1,-49.5,-49.0,-48.4,-47.8,-47.3,-46.7],
 -41.76:[-51.6,-50.9,-50.2,-49.7,-49.1,-48.5,-48.0,-47.4,-46.9,-46.2],
 -42.24:[-50.6,-50.0,-49.4,-48.8,-48.3,-47.7,-47.2,-46.6],
 -42.76:[-49.9,-49.3,-48.7,-48.1,-47.6,-47.0,-46.4],
 -43.24:[-49.4,-48.9,-48.2,-47.6,-46.7],
}

rows = [(categories[4], p) for p in teal] + [(categories[5], p) for p in green] + [(categories[6], p) for p in tan]
rows += [(categories[7], p) for p in orange + orange_extra]
rows += [(categories[8], p) for p in yellow_outer + yellow_right + yellow_lower]
rows += [(categories[8], (x, level)) for level, xs in core_rows.items() for x in xs]
rows += [(categories[8], (x, level)) for level, xs in core_rows_between.items() for x in xs]
df = pd.DataFrame({"cat": pd.Categorical([r[0] for r in rows], categories=categories),
                   "amp": [r[1][0] for r in rows],
                   "d2": [r[1][1] * 1e-3 for r in rows]})

sns.set_style("ticks")
plt.rcParams["font.family"] = ["DejaVu Sans"]
ink = "#262626"
fig = plt.figure(figsize=(12, 9), dpi=100)
ax = fig.add_axes([102.3 / 1200, 100 / 900, 610 / 1200, 734 / 900])
sns.scatterplot(data=df, x="amp", y="d2", hue="cat", hue_order=categories, palette=dict(zip(categories, colours)),
                s=74, linewidth=1.7, legend=False, ax=ax)
coll = ax.collections[0]
coll.set_edgecolors(coll.get_facecolors())
coll.set_facecolors("none")

ax.set_xlim(-77.1, -30)
ax.set_ylim(-0.06, 0)
ax.set_xticks(range(-75, -25, 5), [str(v) for v in range(-75, -25, 5)])
ax.set_yticks([-0.06, -0.05, -0.04, -0.03, -0.02, -0.01, 0], ["-0.06", "-0.05", "-0.04", "-0.03", "-0.02", "-0.01", "0"])
ax.tick_params(direction="in", length=6, width=0.75, color=ink, labelcolor=ink, labelsize=14, top=True, right=True)
ax.tick_params(axis="x", pad=9)
ax.tick_params(axis="y", pad=5)
for s in ax.spines.values():
    s.set_visible(True)
    s.set_linewidth(0.9)
    s.set_color(ink)
ax.set_xlabel("LTS amplitude (mV)", fontsize=16.6, color=ink, labelpad=6.5)
ax.set_ylabel(r"Peak 2nd derivative (V$^2$/s$^2$)", fontsize=16.6, color=ink, labelpad=8)

fig.text(502 / 1200, 1 - 46 / 900, r"LTS amplitude (mV) vs. Peak 2nd derivative (V$\mathbf{^2}$/s$\mathbf{^2}$) (100%, 200%, 400% g incr)",
         ha="center", va="center", fontsize=16.5, fontweight="bold", color="black", math_fontfamily="dejavusans")
fig.text(774 / 1200, 1 - 104 / 900, "Correlation coefficient: -0.747", ha="left", va="center", fontsize=14.95, color=ink)

handles = [Line2D([], [], linestyle="none", marker="o", markerfacecolor="none", markeredgecolor=c,
                  markersize=8.6, markeredgewidth=1.7, label=l) for l, c in zip(categories, colours)]
leg = ax.legend(handles=handles, loc="upper left", bbox_to_anchor=(750 / 1200, 1 - 312 / 900), bbox_transform=fig.transFigure,
                fontsize=13.6, frameon=True, fancybox=False, framealpha=1, edgecolor=ink, labelspacing=0.38,
                handletextpad=0.15, borderpad=0.4, borderaxespad=0, handlelength=3.85, labelcolor="#111111")
leg.get_frame().set_linewidth(0.9)
fig.savefig("out.png", dpi=100)
